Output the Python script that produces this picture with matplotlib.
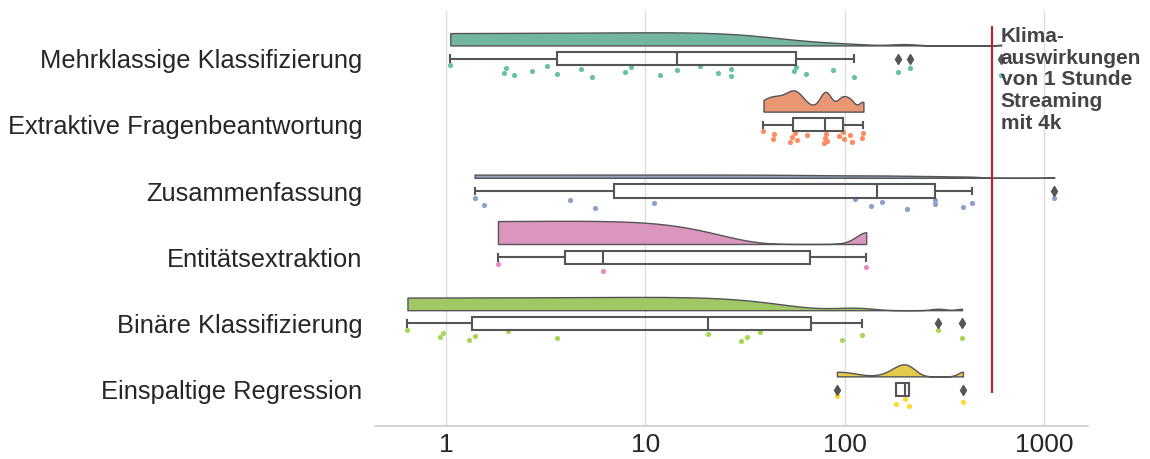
import numpy as np
import matplotlib
matplotlib.use("Agg")
import matplotlib.pyplot as plt
import seaborn as sns

# Task categories (top to bottom)
categories = [
    "Mehrklassige Klassifizierung",
    "Extraktive Fragenbeantwortung",
    "Zusammenfassung",
    "Entitätsextraktion",
    "Binäre Klassifizierung",
    "Einspaltige Regression",
]

# Values per category
mehrklassig = [1.05, 1.96, 1.99, 2.20, 2.71, 3.22, 3.61, 4.74, 5.38, 7.88, 8.51,
               11.85, 14.4, 18.8, 23.2, 26.8, 26.8, 55.3, 56.6, 64.0, 87.7,
               111.5, 184.6, 212.9, 609.0]
extraktiv = [39.1, 43.8, 44.3, 53.4, 54.5, 56.0, 57.5, 64.6, 78.5, 79.5, 80.2,
             81.5, 93.0, 97.6, 99.0, 106.0, 108.5, 121.6, 124.0]
zusammenfassung = [1.39, 1.55, 4.16, 5.61, 11.0, 113.0, 136.0, 154.0, 204.0,
                   284.0, 284.0, 393.0, 434.0, 1124.0]
entitaeten = [1.82, 6.11, 128.0]
binaer = [0.64, 0.93, 0.96, 1.30, 1.40, 2.04, 3.62, 20.6, 30.2, 32.5, 37.6,
          97.0, 122.3, 295.0, 387.0]
regression = [91.3, 181.0, 201.0, 208.8, 391.4]

series = [mehrklassig, extraktiv, zusammenfassung, entitaeten, binaer, regression]

x_ticks = [1, 10, 100, 1000]
x_tick_labels = ["1", "10", "100", "1000"]

streaming_value = 550
streaming_label = "Klima-\nauswirkungen\nvon 1 Stunde\nStreaming\nmit 4k"

plt.rcParams['font.family'] = ['Liberation Sans', 'DejaVu Sans']

palette = sns.color_palette("Set2", len(series))
cloud_colors = [sns.desaturate(c, 0.75) for c in palette]
gray = "#555555"

fig = plt.figure(figsize=(11.5, 4.59), dpi=100)
ax = fig.add_axes([0.3261, 0.0719, 0.6196, 0.9041])

width_viol = 0.7
offset = 0.2
move = 0.19
bw = 0.2

# clouds (half violins, KDE in linear space, cut=0, area scaling)
supports = []
densities = []
for vals in series:
    v = np.asarray(vals, dtype=float)
    h = bw * v.std(ddof=1)
    s = np.linspace(v.min(), v.max(), 200)
    d = np.exp(-0.5 * ((s[:, None] - v[None, :]) / h) ** 2).sum(axis=1) / (len(v) * h)
    supports.append(s)
    densities.append(d)
max_d = max(d.max() for d in densities)

for i, (s, d) in enumerate(zip(supports, densities)):
    d = d / max_d
    ax.fill_between(s, i - offset, i - offset - d * width_viol / 2,
                    facecolor=cloud_colors[i], edgecolor=gray, linewidth=1, zorder=2)

# umbrellas (boxplots)
ax.boxplot(series, positions=range(len(series)), vert=False, widths=0.2,
           patch_artist=True, manage_ticks=False,
           boxprops=dict(facecolor="none", edgecolor=gray, linewidth=1.5),
           medianprops=dict(color=gray, linewidth=1.5),
           whiskerprops=dict(color=gray, linewidth=1.5),
           capprops=dict(color=gray, linewidth=1.5),
           flierprops=dict(marker="d", markerfacecolor=gray, markeredgecolor=gray,
                           markersize=5),
           zorder=10)

# rain (strip points)
for i, vals in enumerate(series):
    n = len(vals)
    jit = ((np.arange(n) * 0.6180339887) % 1 - 0.5) * 0.18
    ax.scatter(vals, i + move + jit, s=14, color=palette[i], linewidths=0, zorder=3)

# streaming reference line
ax.vlines(streaming_value, -0.5, 5.05, color="#b22a2a", linewidth=1.6, zorder=5)
ax.text(605, -0.48, streaming_label, fontsize=15, fontweight="bold",
        color="#444444", va="top", ha="left", linespacing=1.18, zorder=12)

ax.set_xscale("log")
ax.set_xlim(0.44, 1651)
ax.set_ylim(5.55, -0.72)
ax.set_xticks(x_ticks)
ax.set_xticklabels(x_tick_labels)
ax.minorticks_off()
ax.set_yticks(range(len(categories)))
ax.set_yticklabels(categories)
ax.tick_params(axis="x", length=0, pad=5, labelsize=19, labelcolor="#262626")
ax.tick_params(axis="y", length=0, pad=9, labelsize=18.4, labelcolor="#262626")

ax.grid(axis="x", color="#dddddd", linewidth=1)
ax.grid(axis="y", visible=False)
ax.set_axisbelow(True)
for side in ["top", "right", "left"]:
    ax.spines[side].set_visible(False)
ax.spines["bottom"].set_color("#cccccc")
ax.spines["bottom"].set_linewidth(1.2)

fig.savefig("out.png", dpi=100)
